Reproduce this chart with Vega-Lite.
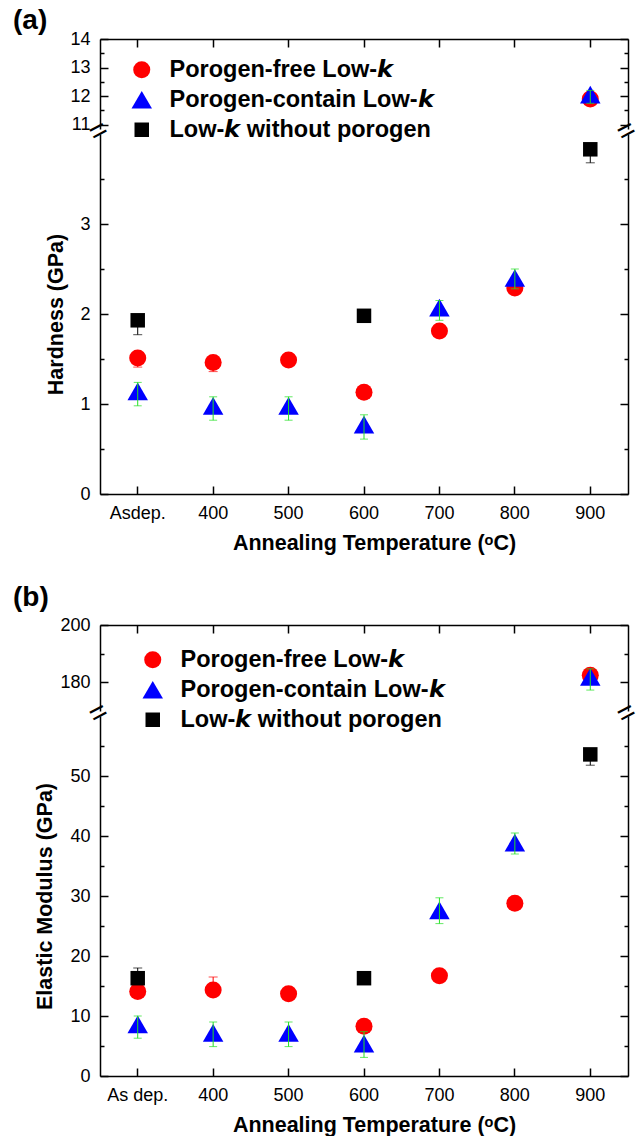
{
  "$schema": "https://vega.github.io/schema/vega-lite/v6.json",
  "padding": {"left": 13, "top": 7, "right": 0, "bottom": 0},
  "bounds": "flush",
  "spacing": 5,
  "config": {
    "view": {"stroke": null},
    "font": "Liberation Sans",
    "axis": {
      "domainColor": "#000000", "domainWidth": 1.5, "tickColor": "#000000", "tickWidth": 1.5,
      "labelColor": "#000000", "labelFont": "Liberation Sans", "labelFontSize": 18,
      "titleFont": "Liberation Sans", "titleFontSize": 21.5, "titleFontWeight": "bold", "titleColor": "#000000",
      "grid": false, "labelFlush": false, "labelOverlap": false, "labelBound": false
    },
    "legend": {
      "orient": "none", "title": null, "padding": 0, "labelFont": "Liberation Sans", "labelFontSize": 23.5, "labelFontWeight": "bold",
      "labelColor": "#000000", "labelOffset": 16, "rowPadding": 5, "symbolStrokeWidth": 0, "labelLimit": 500
    }
  },
  "resolve": {"scale": {"x": "independent", "y": "independent", "color": "independent", "shape": "independent", "size": "independent"}},
  "datasets": {
    "hardness": [
      {"T": "Asdep.", "s": "Porogen-free Low-\ud835\ude60", "v": 1.51, "lo": 1.41, "hi": 1.51},
      {"T": "400", "s": "Porogen-free Low-\ud835\ude60", "v": 1.46, "lo": 1.36, "hi": 1.46},
      {"T": "500", "s": "Porogen-free Low-\ud835\ude60", "v": 1.49, "lo": 1.45, "hi": 1.49},
      {"T": "600", "s": "Porogen-free Low-\ud835\ude60", "v": 1.13, "lo": 1.10, "hi": 1.13},
      {"T": "700", "s": "Porogen-free Low-\ud835\ude60", "v": 1.81, "lo": 1.77, "hi": 1.81},
      {"T": "800", "s": "Porogen-free Low-\ud835\ude60", "v": 2.29, "lo": 2.25, "hi": 2.29},
      {"T": "900", "s": "Porogen-free Low-\ud835\ude60", "v": 11.9, "lo": 11.9, "hi": 12.0},
      {"T": "Asdep.", "s": "Porogen-contain Low-\ud835\ude60", "v": 1.14, "lo": 0.98, "hi": 1.24},
      {"T": "400", "s": "Porogen-contain Low-\ud835\ude60", "v": 0.98, "lo": 0.82, "hi": 1.08},
      {"T": "500", "s": "Porogen-contain Low-\ud835\ude60", "v": 0.98, "lo": 0.82, "hi": 1.08},
      {"T": "600", "s": "Porogen-contain Low-\ud835\ude60", "v": 0.77, "lo": 0.61, "hi": 0.88},
      {"T": "700", "s": "Porogen-contain Low-\ud835\ude60", "v": 2.07, "lo": 1.93, "hi": 2.15},
      {"T": "800", "s": "Porogen-contain Low-\ud835\ude60", "v": 2.40, "lo": 2.28, "hi": 2.50},
      {"T": "900", "s": "Porogen-contain Low-\ud835\ude60", "v": 12.05, "lo": 11.75, "hi": 12.2},
      {"T": "Asdep.", "s": "Low-\ud835\ude60 without porogen", "v": 1.93, "lo": 1.77, "hi": 1.93},
      {"T": "600", "s": "Low-\ud835\ude60 without porogen", "v": 1.98, "lo": 1.98, "hi": 1.98},
      {"T": "900", "s": "Low-\ud835\ude60 without porogen", "v": 3.83, "lo": 3.68, "hi": 3.83}
    ],
    "modulus": [
      {"T": "As dep.", "s": "Porogen-free Low-\ud835\ude60", "v": 14.1, "lo": 14.1, "hi": 15.6},
      {"T": "400", "s": "Porogen-free Low-\ud835\ude60", "v": 14.35, "lo": 14.35, "hi": 16.5},
      {"T": "500", "s": "Porogen-free Low-\ud835\ude60", "v": 13.7, "lo": 13.7, "hi": 14.2},
      {"T": "600", "s": "Porogen-free Low-\ud835\ude60", "v": 8.3, "lo": 8.3, "hi": 8.3},
      {"T": "700", "s": "Porogen-free Low-\ud835\ude60", "v": 16.7, "lo": 16.7, "hi": 17.0},
      {"T": "800", "s": "Porogen-free Low-\ud835\ude60", "v": 28.8, "lo": 28.8, "hi": 29.0},
      {"T": "900", "s": "Porogen-free Low-\ud835\ude60", "v": 182.5, "lo": 180.0, "hi": 182.5},
      {"T": "As dep.", "s": "Porogen-contain Low-\ud835\ude60", "v": 8.6, "lo": 6.3, "hi": 10.0},
      {"T": "400", "s": "Porogen-contain Low-\ud835\ude60", "v": 7.2, "lo": 4.9, "hi": 9.0},
      {"T": "500", "s": "Porogen-contain Low-\ud835\ude60", "v": 7.2, "lo": 4.9, "hi": 9.0},
      {"T": "600", "s": "Porogen-contain Low-\ud835\ude60", "v": 5.4, "lo": 3.1, "hi": 7.4},
      {"T": "700", "s": "Porogen-contain Low-\ud835\ude60", "v": 27.6, "lo": 25.4, "hi": 29.7},
      {"T": "800", "s": "Porogen-contain Low-\ud835\ude60", "v": 38.9, "lo": 37.0, "hi": 40.5},
      {"T": "900", "s": "Porogen-contain Low-\ud835\ude60", "v": 181.9, "lo": 177.3, "hi": 184.7},
      {"T": "As dep.", "s": "Low-\ud835\ude60 without porogen", "v": 16.3, "lo": 14.6, "hi": 18.0},
      {"T": "600", "s": "Low-\ud835\ude60 without porogen", "v": 16.3, "lo": 16.3, "hi": 16.3},
      {"T": "900", "s": "Low-\ud835\ude60 without porogen", "v": 53.6, "lo": 51.8, "hi": 53.6}
    ]
  },
  "vconcat": [
    {
      "width": 528, "height": 90,
      "title": {"text": "(a)", "anchor": "start", "frame": "group", "dx": -87, "offset": -5, "fontSize": 28, "fontWeight": "bold", "font": "Liberation Sans", "color": "#000000"},
      "data": {"name": "hardness"},
      "resolve": {"axis": {"x": "independent", "y": "independent"}},
      "layer": [
        {
          "transform": [{"filter": "datum.v > 10 && indexof(datum.s, 'free') >= 0"}],
          "mark": {"type": "errorbar", "color": "#ff0000", "thickness": 1, "ticks": {"size": 9}},
          "encoding": {
            "x": {"field": "T", "type": "nominal", "scale": {"type": "band", "domain": ["Asdep.", "400", "500", "600", "700", "800", "900"], "paddingInner": 0, "paddingOuter": 0}, "axis": {"orient": "top", "title": null, "labels": false, "tickSize": -8}},
            "y": {"field": "lo", "type": "quantitative", "scale": {"domain": [10.85, 14], "zero": false, "nice": false}, "axis": {"orient": "left", "title": null, "values": [11, 11.5, 12, 12.5, 13, 13.5, 14], "labelExpr": "datum.value % 1 != 0 ? '' : format(datum.value, 'd')", "tickSize": {"condition": {"test": "datum.value % 1 != 0", "value": -4}, "value": -8}, "labelPadding": 18}},
            "y2": {"field": "hi"}
          }
        },
        {
          "transform": [{"filter": "datum.v > 10"}],
          "mark": {"type": "point", "filled": true, "opacity": 1, "strokeWidth": 0},
          "encoding": {
            "x": {"field": "T", "type": "nominal", "axis": null},
            "y": {"field": "v", "type": "quantitative", "axis": {"orient": "right", "title": null, "labels": false, "values": [11, 11.5, 12, 12.5, 13, 13.5, 14], "tickSize": {"condition": {"test": "datum.value % 1 != 0", "value": -4}, "value": -8}}},
            "color": {"field": "s", "type": "nominal", "scale": {"domain": ["Porogen-free Low-\ud835\ude60", "Porogen-contain Low-\ud835\ude60", "Low-\ud835\ude60 without porogen"], "range": ["#ff0000", "#0000ff", "#000000"]}, "legend": {"legendX": 30, "legendY": 19}},
            "shape": {"field": "s", "type": "nominal", "scale": {"domain": ["Porogen-free Low-\ud835\ude60", "Porogen-contain Low-\ud835\ude60", "Low-\ud835\ude60 without porogen"], "range": ["circle", "triangle-up", "square"]}, "legend": {"legendX": 30, "legendY": 19}},
            "size": {"field": "s", "type": "nominal", "scale": {"type": "ordinal", "domain": ["Porogen-free Low-\ud835\ude60", "Porogen-contain Low-\ud835\ude60", "Low-\ud835\ude60 without porogen"], "range": [290, 420, 210]}, "legend": {"legendX": 30, "legendY": 19}}
          }
        },
        {
          "transform": [{"filter": "datum.v > 10 && indexof(datum.s, 'contain') >= 0"}],
          "mark": {"type": "errorbar", "color": "#22e022", "thickness": 1, "ticks": {"size": 8}},
          "encoding": {
            "x": {"field": "T", "type": "nominal", "axis": null},
            "y": {"field": "lo", "type": "quantitative", "axis": null},
            "y2": {"field": "hi"}
          }
        }
      ]
    },
    {
      "width": 528, "height": 360,
      "data": {"name": "hardness"},
      "resolve": {"axis": {"x": "independent", "y": "independent"}},
      "layer": [
        {
          "transform": [{"filter": "datum.v <= 10 && indexof(datum.s, 'free') >= 0"}],
          "mark": {"type": "errorbar", "color": "#ff0000", "thickness": 1, "ticks": {"size": 9}},
          "encoding": {
            "x": {"field": "T", "type": "nominal", "scale": {"type": "band", "domain": ["Asdep.", "400", "500", "600", "700", "800", "900"], "paddingInner": 0, "paddingOuter": 0}, "axis": {"orient": "bottom", "title": "Annealing Temperature (\u1d52C)", "titleX": 274, "labelAngle": 0, "tickSize": -8, "labelPadding": 18, "titlePadding": 10}},
            "y": {"field": "lo", "type": "quantitative", "scale": {"domain": [0, 4.0], "zero": false, "nice": false}, "axis": {"orient": "left", "title": "Hardness (GPa)", "titlePadding": 12, "values": [0, 0.5, 1, 1.5, 2, 2.5, 3, 3.5], "labelExpr": "datum.value % 1 != 0 ? '' : format(datum.value, 'd')", "tickSize": {"condition": {"test": "datum.value % 1 != 0", "value": -4}, "value": -8}, "labelPadding": 18}},
            "y2": {"field": "hi"}
          }
        },
        {
          "transform": [{"filter": "datum.v <= 10 && indexof(datum.s, 'without') >= 0"}],
          "mark": {"type": "errorbar", "color": "#000000", "thickness": 1, "ticks": {"size": 9}},
          "encoding": {
            "x": {"field": "T", "type": "nominal", "axis": null},
            "y": {"field": "lo", "type": "quantitative", "axis": null},
            "y2": {"field": "hi"}
          }
        },
        {
          "transform": [{"filter": "datum.v <= 10"}],
          "mark": {"type": "point", "filled": true, "opacity": 1, "strokeWidth": 0},
          "encoding": {
            "x": {"field": "T", "type": "nominal", "axis": null},
            "y": {"field": "v", "type": "quantitative", "axis": {"orient": "right", "title": null, "labels": false, "values": [0, 0.5, 1, 1.5, 2, 2.5, 3, 3.5], "tickSize": {"condition": {"test": "datum.value % 1 != 0", "value": -4}, "value": -8}}},
            "color": {"field": "s", "type": "nominal", "scale": {"domain": ["Porogen-free Low-\ud835\ude60", "Porogen-contain Low-\ud835\ude60", "Low-\ud835\ude60 without porogen"], "range": ["#ff0000", "#0000ff", "#000000"]}, "legend": null},
            "shape": {"field": "s", "type": "nominal", "scale": {"domain": ["Porogen-free Low-\ud835\ude60", "Porogen-contain Low-\ud835\ude60", "Low-\ud835\ude60 without porogen"], "range": ["circle", "triangle-up", "square"]}, "legend": null},
            "size": {"field": "s", "type": "nominal", "scale": {"type": "ordinal", "domain": ["Porogen-free Low-\ud835\ude60", "Porogen-contain Low-\ud835\ude60", "Low-\ud835\ude60 without porogen"], "range": [290, 420, 210]}, "legend": null}
          }
        },
        {
          "transform": [{"filter": "datum.v <= 10 && indexof(datum.s, 'contain') >= 0"}],
          "mark": {"type": "errorbar", "color": "#22e022", "thickness": 1, "ticks": {"size": 8}},
          "encoding": {
            "x": {"field": "T", "type": "nominal", "axis": null},
            "y": {"field": "lo", "type": "quantitative", "axis": null},
            "y2": {"field": "hi"}
          }
        },
        {
          "data": {"values": [{"T": "Asdep.", "b": 4.0}]},
          "mark": {"type": "text", "text": "=", "angle": 332, "fontSize": 30, "font": "Liberation Sans", "align": "center", "baseline": "middle", "dy": -3, "color": "#000000"},
          "encoding": {"x": {"field": "T", "type": "nominal", "bandPosition": 0, "axis": null}, "y": {"field": "b", "type": "quantitative", "axis": null}}
        },
        {
          "data": {"values": [{"T": "900", "b": 4.0}]},
          "mark": {"type": "text", "text": "=", "angle": 332, "fontSize": 30, "font": "Liberation Sans", "align": "center", "baseline": "middle", "dy": -3, "color": "#000000"},
          "encoding": {"x": {"field": "T", "type": "nominal", "bandPosition": 1, "axis": null}, "y": {"field": "b", "type": "quantitative", "axis": null}}
        }
      ]
    },
    {
      "width": 528, "height": 121,
      "data": {"values": []},
      "mark": {"type": "point", "opacity": 0},
      "encoding": {}
    },
    {
      "width": 528, "height": 86,
      "title": {"text": "(b)", "anchor": "start", "frame": "group", "dx": -87, "offset": 4, "fontSize": 28, "fontWeight": "bold", "font": "Liberation Sans", "color": "#000000"},
      "data": {"name": "modulus"},
      "resolve": {"axis": {"x": "independent", "y": "independent"}},
      "layer": [
        {
          "transform": [{"filter": "datum.v > 100 && indexof(datum.s, 'free') >= 0"}],
          "mark": {"type": "errorbar", "color": "#ff0000", "thickness": 1, "ticks": {"size": 9}},
          "encoding": {
            "x": {"field": "T", "type": "nominal", "scale": {"type": "band", "domain": ["As dep.", "400", "500", "600", "700", "800", "900"], "paddingInner": 0, "paddingOuter": 0}, "axis": {"orient": "top", "title": null, "labels": false, "tickSize": -8}},
            "y": {"field": "lo", "type": "quantitative", "scale": {"domain": [170, 200], "zero": false, "nice": false}, "axis": {"orient": "left", "title": null, "values": [180, 190, 200], "labelExpr": "datum.value % 20 != 0 ? '' : format(datum.value, 'd')", "tickSize": {"condition": {"test": "datum.value % 20 != 0", "value": -4}, "value": -8}, "labelPadding": 18}},
            "y2": {"field": "hi"}
          }
        },
        {
          "transform": [{"filter": "datum.v > 100"}],
          "mark": {"type": "point", "filled": true, "opacity": 1, "strokeWidth": 0},
          "encoding": {
            "x": {"field": "T", "type": "nominal", "axis": null},
            "y": {"field": "v", "type": "quantitative", "axis": {"orient": "right", "title": null, "labels": false, "values": [180, 190, 200], "tickSize": {"condition": {"test": "datum.value % 20 != 0", "value": -4}, "value": -8}}},
            "color": {"field": "s", "type": "nominal", "scale": {"domain": ["Porogen-free Low-\ud835\ude60", "Porogen-contain Low-\ud835\ude60", "Low-\ud835\ude60 without porogen"], "range": ["#ff0000", "#0000ff", "#000000"]}, "legend": {"legendX": 41, "legendY": 23}},
            "shape": {"field": "s", "type": "nominal", "scale": {"domain": ["Porogen-free Low-\ud835\ude60", "Porogen-contain Low-\ud835\ude60", "Low-\ud835\ude60 without porogen"], "range": ["circle", "triangle-up", "square"]}, "legend": {"legendX": 41, "legendY": 23}},
            "size": {"field": "s", "type": "nominal", "scale": {"type": "ordinal", "domain": ["Porogen-free Low-\ud835\ude60", "Porogen-contain Low-\ud835\ude60", "Low-\ud835\ude60 without porogen"], "range": [290, 420, 210]}, "legend": {"legendX": 41, "legendY": 23}}
          }
        },
        {
          "transform": [{"filter": "datum.v > 100 && indexof(datum.s, 'contain') >= 0"}],
          "mark": {"type": "errorbar", "color": "#22e022", "thickness": 1, "ticks": {"size": 8}},
          "encoding": {
            "x": {"field": "T", "type": "nominal", "axis": null},
            "y": {"field": "lo", "type": "quantitative", "axis": null},
            "y2": {"field": "hi"}
          }
        }
      ]
    },
    {
      "width": 528, "height": 360,
      "data": {"name": "modulus"},
      "resolve": {"axis": {"x": "independent", "y": "independent"}},
      "layer": [
        {
          "transform": [{"filter": "datum.v <= 100 && indexof(datum.s, 'free') >= 0"}],
          "mark": {"type": "errorbar", "color": "#ff0000", "thickness": 1, "ticks": {"size": 9}},
          "encoding": {
            "x": {"field": "T", "type": "nominal", "scale": {"type": "band", "domain": ["As dep.", "400", "500", "600", "700", "800", "900"], "paddingInner": 0, "paddingOuter": 0}, "axis": {"orient": "bottom", "title": "Annealing Temperature (\u1d52C)", "titleX": 274, "labelAngle": 0, "tickSize": -8, "labelPadding": 18, "titlePadding": 10}},
            "y": {"field": "lo", "type": "quantitative", "scale": {"domain": [0, 60], "zero": false, "nice": false}, "axis": {"orient": "left", "title": "Elastic Modulus (GPa)", "titlePadding": 13, "values": [0, 5, 10, 15, 20, 25, 30, 35, 40, 45, 50, 55], "labelExpr": "datum.value % 10 != 0 ? '' : format(datum.value, 'd')", "tickSize": {"condition": {"test": "datum.value % 10 != 0", "value": -4}, "value": -8}, "labelPadding": 18}},
            "y2": {"field": "hi"}
          }
        },
        {
          "transform": [{"filter": "datum.v <= 100 && indexof(datum.s, 'without') >= 0"}],
          "mark": {"type": "errorbar", "color": "#000000", "thickness": 1, "ticks": {"size": 9}},
          "encoding": {
            "x": {"field": "T", "type": "nominal", "axis": null},
            "y": {"field": "lo", "type": "quantitative", "axis": null},
            "y2": {"field": "hi"}
          }
        },
        {
          "transform": [{"filter": "datum.v <= 100"}],
          "mark": {"type": "point", "filled": true, "opacity": 1, "strokeWidth": 0},
          "encoding": {
            "x": {"field": "T", "type": "nominal", "axis": null},
            "y": {"field": "v", "type": "quantitative", "axis": {"orient": "right", "title": null, "labels": false, "values": [0, 5, 10, 15, 20, 25, 30, 35, 40, 45, 50, 55], "tickSize": {"condition": {"test": "datum.value % 10 != 0", "value": -4}, "value": -8}}},
            "color": {"field": "s", "type": "nominal", "scale": {"domain": ["Porogen-free Low-\ud835\ude60", "Porogen-contain Low-\ud835\ude60", "Low-\ud835\ude60 without porogen"], "range": ["#ff0000", "#0000ff", "#000000"]}, "legend": null},
            "shape": {"field": "s", "type": "nominal", "scale": {"domain": ["Porogen-free Low-\ud835\ude60", "Porogen-contain Low-\ud835\ude60", "Low-\ud835\ude60 without porogen"], "range": ["circle", "triangle-up", "square"]}, "legend": null},
            "size": {"field": "s", "type": "nominal", "scale": {"type": "ordinal", "domain": ["Porogen-free Low-\ud835\ude60", "Porogen-contain Low-\ud835\ude60", "Low-\ud835\ude60 without porogen"], "range": [290, 420, 210]}, "legend": null}
          }
        },
        {
          "transform": [{"filter": "datum.v <= 100 && indexof(datum.s, 'contain') >= 0"}],
          "mark": {"type": "errorbar", "color": "#22e022", "thickness": 1, "ticks": {"size": 8}},
          "encoding": {
            "x": {"field": "T", "type": "nominal", "axis": null},
            "y": {"field": "lo", "type": "quantitative", "axis": null},
            "y2": {"field": "hi"}
          }
        },
        {
          "data": {"values": [{"T": "As dep.", "b": 60}]},
          "mark": {"type": "text", "text": "=", "angle": 332, "fontSize": 30, "font": "Liberation Sans", "align": "center", "baseline": "middle", "dy": -3, "color": "#000000"},
          "encoding": {"x": {"field": "T", "type": "nominal", "bandPosition": 0, "axis": null}, "y": {"field": "b", "type": "quantitative", "axis": null}}
        },
        {
          "data": {"values": [{"T": "900", "b": 60}]},
          "mark": {"type": "text", "text": "=", "angle": 332, "fontSize": 30, "font": "Liberation Sans", "align": "center", "baseline": "middle", "dy": -3, "color": "#000000"},
          "encoding": {"x": {"field": "T", "type": "nominal", "bandPosition": 1, "axis": null}, "y": {"field": "b", "type": "quantitative", "axis": null}}
        }
      ]
    }
  ]
}
